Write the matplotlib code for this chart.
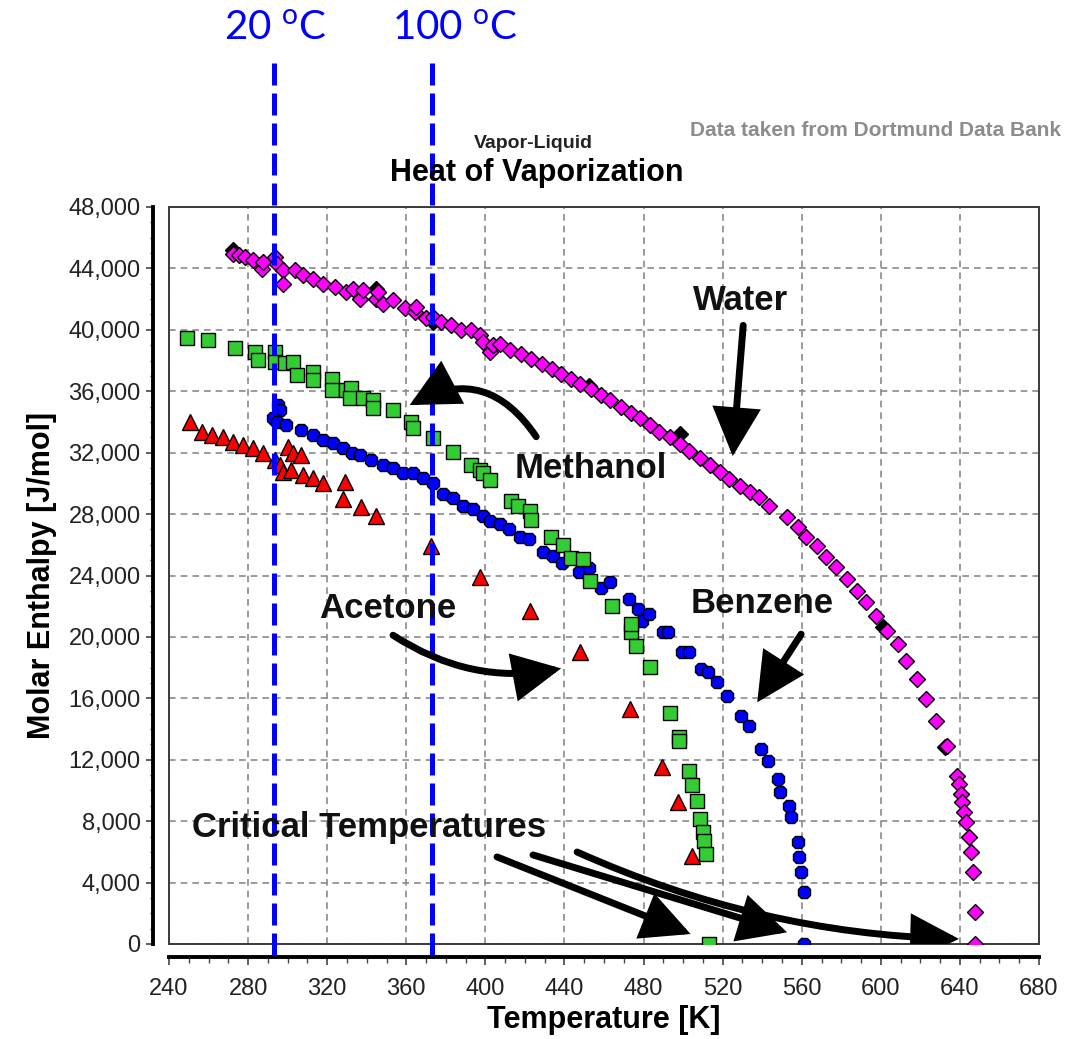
import matplotlib
matplotlib.use("Agg")
import matplotlib.pyplot as plt
import matplotlib.transforms as mtransforms
from matplotlib.patches import FancyArrowPatch, ArrowStyle
from matplotlib.ticker import MultipleLocator, FuncFormatter

plt.rcParams['font.family'] = ['Liberation Sans', 'DejaVu Sans']

# Heat of vaporization data (T in K, H in J/mol)
water_T = [272.5, 275.5, 278.4, 282.6, 286.8, 287.6, 293.5, 294.4, 297.7, 297.7,
           303.6, 307.8, 312.9, 317.9, 323.8, 329.7, 333.0, 336.5, 338.1, 344.9,
           345.8, 348.2, 353.3, 359.2, 364.2, 365.1, 370.1, 373.5, 377.7, 382.8,
           387.8, 392.9, 397.1, 398.8, 402.1, 403.8, 407.2, 412.5, 417.8, 423.2,
           428.5, 433.8, 438.2, 443.5, 448.0, 453.3, 458.6, 463.0, 468.4, 473.7,
           478.1, 483.4, 487.9, 493.2, 498.5, 503.0, 508.3, 513.6, 518.9, 523.3,
           528.7, 534.0, 538.4, 543.7, 552.6, 557.9, 562.3, 567.7, 572.1, 577.4,
           582.7, 588.1, 592.5, 597.8, 603.1, 608.5, 612.9, 618.2, 622.6, 628.0,
           633.3, 638.6, 639.5, 640.4, 641.2, 642.1, 643.0, 644.4, 645.7, 646.6,
           647.4, 647.4]
water_H = [44960, 44850, 44750, 44530, 43990, 44420, 44750, 44310, 43880, 43010,
           43880, 43560, 43340, 43010, 42800, 42470, 42690, 42040, 42580, 42040,
           42470, 41710, 41930, 41390, 41170, 41500, 40740, 40850, 40520, 40300,
           39980, 39980, 39650, 39220, 38570, 39000, 39050, 38700, 38400, 38100,
           37800, 37450, 37150, 36800, 36500, 36150, 35750, 35400, 35000, 34600,
           34250, 33800, 33350, 33000, 32550, 32100, 31650, 31200, 30750, 30300,
           29850, 29450, 29100, 28540, 27780, 27130, 26480, 25940, 25180, 24530,
           23770, 23010, 22250, 21380, 20400, 19530, 18450, 17260, 15950, 14540,
           12910, 10960, 10420, 9770, 9220, 8570, 7920, 6950, 5970, 4670,
           2060, 0]

# second water data set (black diamonds)
water2_T = [272.5, 344.9, 373.5, 452.4, 498.5, 601.0, 632.4]
water2_H = [45180, 42690, 40520, 36360, 33200, 20620, 12800]

meth_T = [248.9, 259.9, 273.3, 283.4, 285.1, 293.5, 293.5, 298.6, 302.8, 304.5,
          312.9, 312.9, 322.2, 322.2, 329.7, 332.2, 331.4, 338.1, 343.2, 343.2,
          353.3, 362.6, 363.5, 373.5, 383.6, 392.9, 397.1, 398.8, 402.1, 412.8,
          416.4, 422.8, 423.2, 433.1, 439.2, 443.5, 449.5, 453.0, 463.9, 473.7,
          473.7, 476.3, 483.1, 493.2, 498.0, 498.0, 502.9, 504.7, 507.0, 508.8,
          510.0, 510.6, 511.8, 513.2]
meth_H = [39440, 39330, 38790, 38570, 38030, 38570, 37920, 37810, 37920, 37050,
          37270, 36730, 36830, 36080, 36080, 36180, 35530, 35530, 35420, 34880,
          34770, 34010, 33580, 32930, 32070, 31200, 30870, 30660, 30230, 28870,
          28540, 28220, 27600, 26540, 26000, 25130, 25080, 23670, 22030, 20290,
          20840, 19430, 18010, 15020, 13460, 13200, 11290, 10370, 9330, 8140,
          7270, 6730, 5860, 0]

benz_T = [295.2, 296.1, 292.7, 294.4, 299.4, 307.0, 312.9, 317.9, 323.0, 328.0,
          332.3, 336.5, 342.4, 348.2, 353.3, 358.4, 363.4, 368.5, 373.5, 378.6,
          383.6, 388.7, 393.7, 398.8, 402.1, 407.2, 412.2, 417.3, 422.3, 429.3,
          434.0, 438.7, 447.6, 452.5, 458.6, 463.0, 472.8, 477.2, 479.0, 482.6,
          489.6, 492.3, 499.4, 502.9, 509.1, 512.6, 517.1, 522.4, 529.5, 533.1,
          539.3, 542.8, 548.2, 549.0, 553.5, 554.4, 557.9, 558.8, 559.7, 560.9,
          561.1]
benz_H = [35100, 34770, 34230, 34010, 33800, 33470, 33150, 32820, 32610, 32280,
          31960, 31850, 31520, 31200, 30980, 30660, 30660, 30330, 30010, 29300,
          29080, 28540, 28320, 27890, 27570, 27350, 27030, 26490, 26380, 25560,
          25290, 24800, 24220, 24480, 23180, 23550, 22460, 21810, 21050, 21490,
          20290, 20290, 18990, 18990, 17910, 17690, 17040, 16170, 14870, 14220,
          12700, 11940, 10740, 9880, 9010, 8250, 6620, 5640, 4670, 3360,
          0]

acet_T = [250.6, 256.5, 261.5, 267.4, 272.5, 277.5, 282.6, 287.6, 293.5, 296.1,
          300.3, 302.8, 307.0, 297.7, 301.9, 307.8, 312.9, 317.9, 328.9, 328.0,
          337.3, 344.9, 372.7, 397.1, 422.8, 447.8, 473.2, 489.1, 497.6, 504.4]
acet_H = [34020, 33370, 33150, 33040, 32720, 32500, 32280, 31960, 31520, 31200,
          32390, 31960, 31850, 30770, 30880, 30550, 30330, 30010, 30120, 28970,
          28430, 27890, 25950, 23890, 21670, 19010, 15300, 11500, 9220, 5750]

# reference temperatures in Celsius
ref_C = [20, 100]

fig = plt.figure(figsize=(10.89, 10.39), dpi=100)
ax = fig.add_axes([169/1089, 1 - 944/1039, 870/1089, 737/1039])

ax.plot(acet_T, acet_H, ls='none', marker='^', ms=12, mfc='#ff0000', mec='black', mew=1, zorder=3)
ax.plot(benz_T, benz_H, ls='none', marker='8', ms=9.5, mfc='#0000ff', mec='black', mew=1, zorder=3)
ax.plot(meth_T, meth_H, ls='none', marker='s', ms=10.5, mfc='#33cc33', mec='black', mew=1, zorder=3)
ax.plot(water2_T, water2_H, ls='none', marker='D', ms=8, mfc='black', mec='black', mew=1, zorder=3)
ax.plot(water_T, water_H, ls='none', marker='D', ms=8, mfc='#ff00ff', mec='black', mew=1, zorder=3)

ax.set_xlim(240, 680)
ax.set_ylim(0, 48000)
ax.xaxis.set_major_locator(MultipleLocator(40))
ax.xaxis.set_minor_locator(MultipleLocator(10))
ax.yaxis.set_major_locator(MultipleLocator(4000))
ax.yaxis.set_minor_locator(MultipleLocator(1000))
ax.yaxis.set_major_formatter(FuncFormatter(lambda v, p: f'{int(v):,}'))

ax.set_axisbelow(True)
ax.grid(True, which='major', color='#8a8a8a', linestyle=(0, (4, 3)), lw=1.2)

# detached outer axes + thin inner frame
for s in ['top', 'right']:
    ax.spines[s].set_color('#3a3a3a')
    ax.spines[s].set_linewidth(1.4)
ax.spines['left'].set_position(('outward', 11.5))
ax.spines['bottom'].set_position(('outward', 9.5))
for s in ['left', 'bottom']:
    ax.spines[s].set_linewidth(2.8)
    ax.spines[s].set_color('black')
ax.plot([0, 0], [0, 1], transform=ax.transAxes, color='#3a3a3a', lw=1.4, clip_on=False)
ax.plot([0, 1], [0, 0], transform=ax.transAxes, color='#3a3a3a', lw=1.4, clip_on=False)

ax.tick_params(axis='y', which='major', direction='out', length=5, width=1.2,
               color='#444444', labelsize=17, pad=4, labelcolor='#222222')
ax.tick_params(axis='y', which='minor', direction='out', length=2.5, width=1, color='#444444')
ax.tick_params(axis='x', which='major', direction='out', length=6, width=1.2,
               color='#444444', labelsize=17, pad=9, labelcolor='#222222')
ax.tick_params(axis='x', which='minor', direction='out', length=4, width=1, color='#444444')

# axis labels and titles
fig.text(604/1089, 1 - 1020/1039, 'Temperature [K]', fontsize=22, fontweight='bold',
         ha='center', va='center')
fig.text(42/1089, 1 - 575/1039, 'Molar Enthalpy [J/mol]', fontsize=22, fontweight='bold',
         ha='center', va='center', rotation=90)
fig.text(533/1089, 1 - 143/1039, 'Vapor-Liquid', fontsize=14, fontweight='bold',
         ha='center', va='center', color='#222222')
fig.text(537/1089, 1 - 173/1039, 'Heat of Vaporization', fontsize=22, fontweight='bold',
         ha='center', va='center')
fig.text(875/1089, 1 - 130/1039, 'Data taken from Dortmund Data Bank', fontsize=15,
         fontweight='bold', ha='center', va='center', color='#8c8c8c')

# 20 C and 100 C marker lines
trans = mtransforms.blended_transform_factory(ax.transData, fig.transFigure)
for c in ref_C:
    tk = c + 273.15
    ax.plot([tk, tk], [1 - 955/1039, 1 - 62/1039], transform=trans, color='#0000ff',
            lw=3.6, linestyle=(0, (4.4, 1.6)), clip_on=False, zorder=4)
fig.text(275/1089, 1 - 28/1039, r'20 $^{\mathregular{o}}$C', fontsize=29, color='#0000ff',
         ha='center', va='center', family=['Liberation Sans Narrow', 'Lato'])
fig.text(455/1089, 1 - 28/1039, r'100 $^{\mathregular{o}}$C', fontsize=29, color='#0000ff',
         ha='center', va='center', family=['Liberation Sans Narrow', 'Lato'])

# annotations
labels = [('Water', 529.3, 41940), ('Methanol', 453.5, 31000),
          ('Acetone', 350.8, 21880), ('Benzene', 540.0, 22200)]
for txt, x, y in labels:
    ax.text(x, y, txt, fontsize=25, fontweight='bold', ha='center', va='center',
            color='#111111', zorder=5)
ax.text(251.6, 7600, 'Critical Temperatures', fontsize=25, fontweight='bold',
        ha='left', va='center', color='#111111', zorder=5)

arrows = [((530.4, 40290), (525.1, 31780), 0.0),
          ((425.7, 33040), (361.7, 35100), 0.45),
          ((353.3, 20110), (438.3, 17950), 0.2),
          ((559.7, 20180), (537.5, 15740), 0.0),
          ((405.9, 5670), (503.8, 650), 0.0),
          ((424.1, 5800), (552.6, 760), 0.0),
          ((446.4, 5990), (639.5, 330), 0.1)]
style = ArrowStyle('-|>', head_length=2.7, head_width=1.35)
for tail, tip, rad in arrows:
    arr = FancyArrowPatch(tail, tip, arrowstyle=style, mutation_scale=10,
                          connectionstyle=f'arc3,rad={rad}', color='black', lw=5,
                          joinstyle='miter', shrinkA=0, shrinkB=0, zorder=5)
    ax.add_patch(arr)

fig.savefig('out.png', dpi=100)
